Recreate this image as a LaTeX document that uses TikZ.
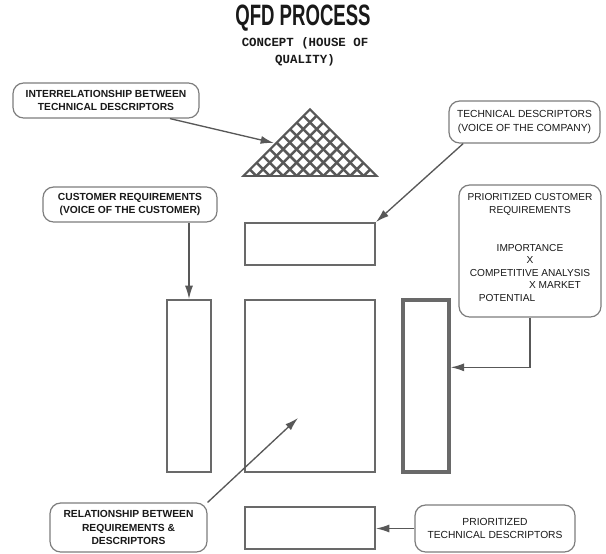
\documentclass[tikz,border=0pt]{standalone}
\usepackage{fontspec}
\setmainfont{Liberation Sans}
\newfontfamily\courierfont{Liberation Mono}
\usepackage{tikz}
\usetikzlibrary{arrows.meta,positioning,calc}
\definecolor{linegray}{RGB}{88,88,88}
\definecolor{boxgray}{RGB}{105,105,105}
\definecolor{notegray}{RGB}{125,125,125}
\definecolor{inkdark}{RGB}{25,25,25}

\begin{document}
\begin{tikzpicture}[x=0.75pt,y=-0.75pt,
  every node/.style={align=center,text=inkdark,inner sep=0pt},
  note/.style={draw=notegray,line width=0.9pt,rounded corners=8pt,fill=white,font=\fontsize{7.7}{10.2}\selectfont},
  boldnote/.style={note,font=\fontsize{7.7}{10.2}\selectfont\bfseries},
  part/.style={draw=boxgray,line width=1.4pt},
  conn/.style={draw=linegray,line width=1pt,-{Latex[length=10pt,width=6pt]}}]
\useasboundingbox (0,0) rectangle (606,553);
% title
\node[font=\fontsize{17}{17}\selectfont\bfseries] (title) at (303,18) {\scalebox{0.82}[1.3]{QFD PROCESS}};
\node[font=\fontsize{9.3}{12.8}\selectfont\courierfont\bfseries] (subtitle) at (305,52) {CONCEPT (HOUSE OF\\QUALITY)};
% roof
\begin{scope}
\clip (243,176) -- (310,109) -- (377,176) -- cycle;
\foreach \k in {0,...,10} {
  \draw[linegray,line width=1.9pt] (243+\k*13.4,176) -- ++(80,-80);
  \draw[linegray,line width=1.9pt] (377-\k*13.4,176) -- ++(-80,-80);
}
\end{scope}
\draw[linegray,line width=1.2pt] (243,176) -- (310,109) -- (377,176) -- cycle;
\coordinate (roof) at (274,143);
% house parts
\node[part,minimum width=97.5pt,minimum height=31.5pt] (top) at (310,244) {};
\node[part,minimum width=33pt,minimum height=129pt] (left) at (189,386) {};
\node[part,minimum width=97.5pt,minimum height=129pt] (center) at (310,386) {};
\node[part,line width=2.6pt,minimum width=34.5pt,minimum height=129pt] (right) at (426,386) {};
\node[part,minimum width=97.5pt,minimum height=31.5pt] (bottom) at (310,528) {};
\coordinate (relpt) at (298,418);
% callouts
\node[boldnote,minimum width=139.5pt,minimum height=26.25pt] (interrel) at (106,100.5) {INTERRELATIONSHIP BETWEEN\\TECHNICAL DESCRIPTORS};
\node[note,minimum width=113.25pt,minimum height=31.5pt] (techdesc) at (524.5,122) {TECHNICAL DESCRIPTORS\\(VOICE OF THE COMPANY)};
\node[boldnote,minimum width=130.5pt,minimum height=26.25pt] (custreq) at (130,204.5) {CUSTOMER REQUIREMENTS\\(VOICE OF THE CUSTOMER)};
\node[note,font=\fontsize{7.6}{9.4}\selectfont,minimum width=106.5pt,minimum height=99pt] (prioreq) at (530,251) {PRIORITIZED CUSTOMER\\REQUIREMENTS\\[19pt]IMPORTANCE\\X\\COMPETITIVE ANALYSIS\\\hspace*{37.5pt}X MARKET\\POTENTIAL\hspace*{34.5pt}\mbox{}\\[-4pt]~};
\node[boldnote,minimum width=117.75pt,minimum height=36.75pt] (reldesc) at (128.5,527.5) {RELATIONSHIP BETWEEN\\REQUIREMENTS \&\\DESCRIPTORS};
\node[note,minimum width=120pt,minimum height=35.25pt] (priodesc) at (495,528.5) {PRIORITIZED\\TECHNICAL DESCRIPTORS};
% connectors
\draw[conn] ([xshift=48pt]interrel.south) -- (roof);
\draw[conn] ([xshift=-46pt]techdesc.south) -- (top.north east);
\draw[conn] (left.north |- custreq.south) -- (left.north);
\draw[conn] (prioreq.south) |- ([yshift=14pt]right.east);
\draw[conn] (reldesc.north east) -- (relpt);
\draw[conn] (priodesc.west) -- (priodesc.west -| bottom.east);
\end{tikzpicture}
\end{document}
